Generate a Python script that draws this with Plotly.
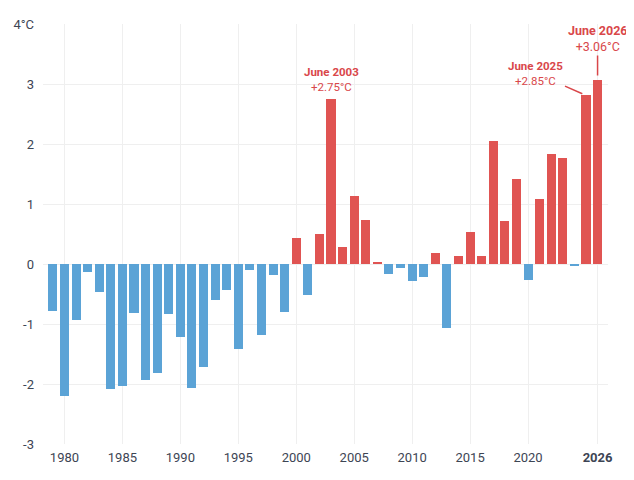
import plotly.graph_objects as go

years = list(range(1979, 2027))
anomalies = [-0.78, -2.2, -0.94, -0.14, -0.47, -2.08, -2.04, -0.81, -1.93, -1.81,
             -0.84, -1.21, -2.06, -1.71, -0.6, -0.43, -1.42, -0.1, -1.19, -0.18,
             -0.8, 0.44, -0.52, 0.5, 2.75, 0.29, 1.14, 0.73, 0.02, -0.17,
             -0.06, -0.28, -0.21, 0.18, -1.07, 0.13, 0.53, 0.13, 2.05, 0.71,
             1.42, -0.27, 1.09, 1.84, 1.77, -0.04, 2.81, 3.06]

x_tickvals = [1980, 1985, 1990, 1995, 2000, 2005, 2010, 2015, 2020, 2026]
x_ticktext = ['1980', '1985', '1990', '1995', '2000', '2005', '2010', '2015', '2020', '<b>2026</b>']
y_tickvals = [-3, -2, -1, 0, 1, 2, 3, 4]
y_ticktext = ['-3', '-2', '-1', '0', '1', '2', '3', '4°C']

RED = '#e05452'
BLUE = '#5ba3d6'
TEXT_RED = '#d9474a'

colors = [RED if v > 0 else BLUE for v in anomalies]

fig = go.Figure()
fig.add_trace(go.Bar(x=years, y=anomalies, marker_color=colors, marker_line_width=0,
                     width=0.78, hoverinfo='x+y'))

# callouts for record months
fig.add_annotation(x=2003, y=2.75, text='<b>June 2003</b><br>+2.75°C', showarrow=False,
                   yanchor='bottom', yshift=3, font=dict(size=11.5, color=TEXT_RED))
fig.add_annotation(x=2025, y=2.81, text='<b>June 2025</b><br>+2.85°C', showarrow=True,
                   arrowhead=0, arrowwidth=1.5, arrowcolor=TEXT_RED, ax=-50, ay=-22,
                   standoff=4, font=dict(size=11.5, color=TEXT_RED))
fig.add_annotation(x=2026, y=3.06, text='<b>June 2026</b><br>+3.06°C', showarrow=True,
                   arrowhead=0, arrowwidth=1.5, arrowcolor=TEXT_RED, ax=0, ay=-42,
                   standoff=5, font=dict(size=12.5, color=TEXT_RED))

# page body adds an 8px offset, so margins are trimmed on top/left
fig.update_layout(
    width=634, height=480,
    margin=dict(l=35, r=34, t=16, b=44),
    plot_bgcolor='white', paper_bgcolor='white',
    showlegend=False, bargap=0,
    font=dict(family='Roboto', size=13, color='#3d4554'),
)
fig.update_xaxes(range=[1978.15, 2026.9], tickvals=x_tickvals, ticktext=x_ticktext,
                 showgrid=True, gridcolor='#efefef', zeroline=False, showline=False,
                 automargin=False, ticklabelstandoff=4,
                 tickfont=dict(size=13, color='#3d4554'))
fig.update_yaxes(range=[-3, 4], tickvals=y_tickvals, ticktext=y_ticktext,
                 showgrid=True, gridcolor='#efefef', zeroline=False, showline=False,
                 automargin=False, ticklabelstandoff=8,
                 tickfont=dict(size=13, color='#3d4554'))

fig.write_html('out.html')
